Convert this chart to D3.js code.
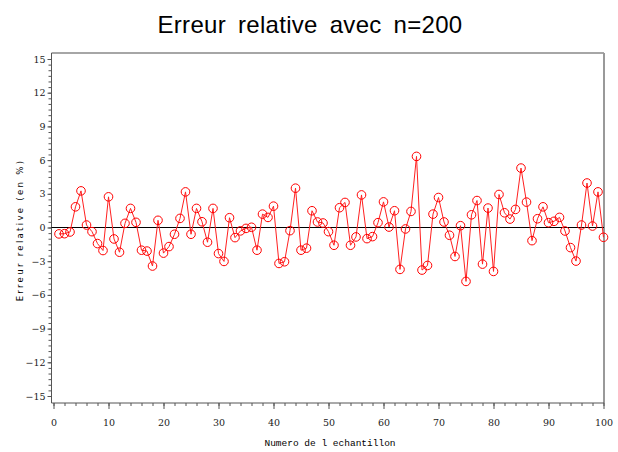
<!DOCTYPE html>
<html lang="fr">
<head>
<meta charset="UTF-8">
<title>Erreur relative</title>
<script src="https://cdn.jsdelivr.net/npm/d3@7"></script>
<style>
  body { margin: 0; background: #fff; }
  .tick text { font-family: "DejaVu Serif", serif; font-size: 9.5px; fill: #222; }
</style>
</head>
<body>
<div id="chart"></div>
<script>
const w = 618
const h = 452

// numero de l'echantillon
const samples = d3.range(1, 101)
// erreur relative (en %)
const errors = [
  -0.57, -0.55, -0.40, 1.84, 3.26, 0.22, -0.37, -1.43, -2.05, 2.73,
  -1.02, -2.20, 0.37, 1.70, 0.46, -2.02, -2.10, -3.43, 0.64, -2.28,
  -1.70, -0.60, 0.81, 3.17, -0.60, 1.70, 0.51, -1.31, 1.70, -2.32,
  -3.02, 0.87, -0.90, -0.30, -0.08, 0.02, -2.02, 1.19, 0.90, 1.90,
  -3.20, -3.05, -0.28, 3.50, -2.02, -1.84, 1.49, 0.49, 0.40, -0.37,
  -1.58, 1.76, 2.23, -1.58, -0.84, 2.90, -0.99, -0.81, 0.43, 2.28,
  0.04, 1.49, -3.73, -0.13, 1.43, 6.33, -3.79, -3.38, 1.19, 2.67,
  0.49, -0.69, -2.58, 0.16, -4.80, 1.13, 2.40, -3.26, 1.73, -3.91,
  2.94, 1.31, 0.75, 1.61, 5.29, 2.26, -1.17, 0.78, 1.84, 0.43,
  0.55, 0.90, -0.31, -1.79, -2.99, 0.22, 3.96, 0.13, 3.17, -0.87
]
const xTicks = d3.range(0, 101, 10)
const xMinor = d3.range(0, 101, 2)
const yTicks = d3.range(-15, 16, 3)
const yMinor = d3.range(-15, 15.01, 0.5)

const data = samples.map((s, i) => [s, errors[i]])

const svg = d3.select("#chart").append("svg")
  .attr("width", w)
  .attr("height", h)

const frameL = 51.5, frameR = 604, frameT = 53, frameB = 403

const xScale = d3.scaleLinear().domain([0, 100]).range([53.5, 603.5])
const yScale = d3.scaleLinear().domain([-15, 15]).range([396, 59])

// titre
svg.append("text")
  .attr("x", 310)
  .attr("y", 33)
  .attr("text-anchor", "middle")
  .style("font-family", "Liberation Sans, Arial, sans-serif")
  .style("font-size", "24px")
  .style("word-spacing", "5px")
  .style("letter-spacing", "0.3px")
  .text("Erreur relative avec n=200")

// cadre
svg.append("line").attr("x1", frameL).attr("x2", frameR).attr("y1", frameT).attr("y2", frameT)
  .attr("stroke", "#888").attr("stroke-width", 1.5)
svg.append("line").attr("x1", frameR).attr("x2", frameR).attr("y1", frameT).attr("y2", frameB)
  .attr("stroke", "#999").attr("stroke-width", 2)

// axes
const xMinorAxis = d3.axisBottom(xScale).tickValues(xMinor).tickSize(3).tickFormat("")
svg.append("g").attr("transform", `translate(0, ${frameB})`).call(xMinorAxis)
  .call(g => g.select(".domain").remove())

const xAxis = d3.axisBottom(xScale).tickValues(xTicks).tickSize(6).tickPadding(10)
svg.append("g").attr("transform", `translate(0, ${frameB})`).call(xAxis)
  .call(g => g.select(".domain").remove())

const yMinorAxis = d3.axisLeft(yScale).tickValues(yMinor).tickSize(3).tickFormat("")
svg.append("g").attr("transform", `translate(${frameL}, 0)`).call(yMinorAxis)
  .call(g => g.select(".domain").remove())

const yAxis = d3.axisLeft(yScale).tickValues(yTicks).tickSize(4).tickPadding(2)
  .tickFormat(d => d < 0 ? "\u2212" + Math.abs(d) : d)
svg.append("g").attr("transform", `translate(${frameL}, 0)`).call(yAxis)
  .call(g => g.select(".domain").remove())

svg.selectAll(".tick line").attr("stroke", "#555")

svg.append("line").attr("x1", frameL).attr("x2", frameL).attr("y1", frameT).attr("y2", frameB)
  .attr("stroke", "#555")
svg.append("line").attr("x1", frameL).attr("x2", frameR).attr("y1", frameB).attr("y2", frameB)
  .attr("stroke", "#555")

// ligne de reference a zero
svg.append("line")
  .attr("x1", frameL).attr("x2", frameR)
  .attr("y1", yScale(0)).attr("y2", yScale(0))
  .attr("stroke", "#000")

// courbe
const line = d3.line().x(d => xScale(d[0])).y(d => yScale(d[1]))
svg.append("path")
  .datum(data)
  .attr("d", line)
  .attr("fill", "none")
  .attr("stroke", "#ff2020")
  .attr("stroke-width", 1)

svg.selectAll("circle")
  .data(data)
  .enter()
  .append("circle")
  .attr("cx", d => xScale(d[0]))
  .attr("cy", d => yScale(d[1]))
  .attr("r", 4.3)
  .attr("fill", "none")
  .attr("stroke", "#ff0000")
  .attr("stroke-width", 1)

// titres des axes
svg.append("text")
  .attr("x", 330)
  .attr("y", 446)
  .attr("text-anchor", "middle")
  .style("font-family", "Liberation Mono, monospace")
  .style("font-size", "9.5px")
  .text("Numero de l echantillon")

svg.append("text")
  .attr("transform", "translate(23, 230) rotate(-90)")
  .attr("text-anchor", "middle")
  .style("font-family", "DejaVu Sans Condensed, Liberation Sans Narrow, sans-serif")
  .style("font-size", "9.5px")
  .style("letter-spacing", "2.3px")
  .text("Erreur relative (en %)")
</script>
</body>
</html>
